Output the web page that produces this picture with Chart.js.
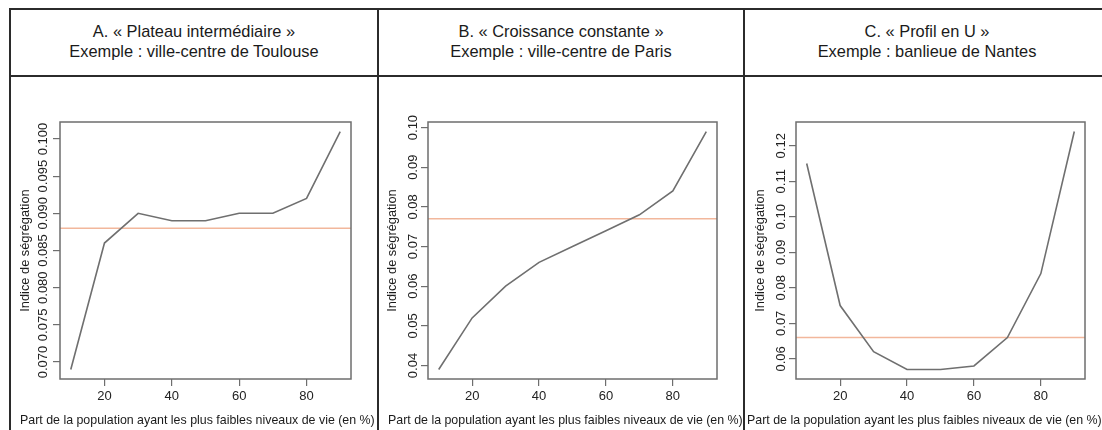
<!DOCTYPE html>
<html lang="fr">
<head>
<meta charset="utf-8">
<script src="https://cdn.jsdelivr.net/npm/chart.js@4.4.1/dist/chart.umd.min.js"></script>
<style>
  html, body { margin: 0; padding: 0; background: #fff; }
  body { width: 1102px; height: 430px; position: relative; overflow: hidden;
         font-family: "Liberation Sans", Arial, sans-serif; color: #1a1a1a; }
  .hline, .vline { position: absolute; background: #2b2b2b; }
  .head { position: absolute; top: 21px; text-align: center; font-size: 16.4px;
          line-height: 20px; white-space: nowrap; }
  .xtitle { position: absolute; top: 412px; font-size: 12.4px; line-height: 16px; white-space: nowrap; }
  canvas { position: absolute; top: 78px; }
</style>
</head>
<body>
<div class="hline" style="left:10px;top:8px;width:1100px;height:2px"></div>
<div class="hline" style="left:10px;top:75px;width:1100px;height:2px"></div>
<div class="vline" style="left:9px;top:8px;width:2px;height:430px"></div>
<div class="vline" style="left:377px;top:8px;width:2px;height:430px"></div>
<div class="vline" style="left:743px;top:8px;width:2px;height:430px"></div>

<div class="head" style="left:10px;width:368px">A. « Plateau intermédiaire »<br>Exemple : ville-centre de Toulouse</div>
<div class="head" style="left:378px;width:366px">B. « Croissance constante »<br>Exemple : ville-centre de Paris</div>
<div class="head" style="left:744px;width:366px">C. « Profil en U »<br>Exemple : banlieue de Nantes</div>

<canvas id="chartA" width="366" height="352" style="left:11px"></canvas>
<canvas id="chartB" width="363" height="352" style="left:380px"></canvas>
<canvas id="chartC" width="356" height="352" style="left:746px"></canvas>

<div class="xtitle" style="left:20px">Part de la population ayant les plus faibles niveaux de vie (en %)</div>
<div class="xtitle" style="left:388px">Part de la population ayant les plus faibles niveaux de vie (en %)</div>
<div class="xtitle" style="left:747px">Part de la population ayant les plus faibles niveaux de vie (en %)</div>

<script>
// part de la population (en %)
const shares = [10, 20, 30, 40, 50, 60, 70, 80, 90];
// indice de ségrégation
const toulouse = [0.069, 0.086, 0.090, 0.089, 0.089, 0.090, 0.090, 0.092, 0.101];
const paris = [0.039, 0.052, 0.060, 0.066, 0.070, 0.074, 0.078, 0.084, 0.099];
const nantes = [0.115, 0.075, 0.062, 0.057, 0.057, 0.058, 0.066, 0.084, 0.124];
// niveau de référence (ligne orange)
const refLevels = [0.088, 0.077, 0.066];

const xTicks = [20, 40, 60, 80];
const yTicksA = [0.070, 0.075, 0.080, 0.085, 0.090, 0.095, 0.100];
const yTicksB = [0.04, 0.05, 0.06, 0.07, 0.08, 0.09, 0.10];
const yTicksC = [0.06, 0.07, 0.08, 0.09, 0.10, 0.11, 0.12];

const plotBox = {
    id: 'plotBox',
    afterDatasetsDraw(chart) {
        const { ctx, chartArea: a } = chart;
        ctx.save();
        ctx.strokeStyle = '#6e6e6e';
        ctx.lineWidth = 1.5;
        ctx.strokeRect(a.left, a.top, a.right - a.left, a.bottom - a.top);
        ctx.restore();
    }
};

// R-style range: 4% margin on each side
function pad(values) {
    const lo = Math.min(...values), hi = Math.max(...values);
    const d = (hi - lo) * 0.04;
    return [lo - d, hi + d];
}

function drawPanel(id, values, ref, yTicks, decimals, layout) {
    const [xMin, xMax] = pad(shares);
    const [yMin, yMax] = pad(values);
    new Chart(document.getElementById(id), {
        type: 'line',
        data: {
            datasets: [{
                data: shares.map((s, i) => ({ x: s, y: values[i] })),
                borderColor: '#6f6f6f',
                borderWidth: 1.6,
                pointRadius: 0,
                tension: 0
            }, {
                data: [{ x: xMin, y: ref }, { x: xMax, y: ref }],
                borderColor: '#f2b79c',
                borderWidth: 1.6,
                pointRadius: 0
            }]
        },
        options: {
            responsive: false,
            animation: false,
            events: [],
            layout: { padding: { top: 44, bottom: 0, left: 0, right: layout.right } },
            plugins: { legend: { display: false }, tooltip: { enabled: false } },
            scales: {
                x: {
                    type: 'linear',
                    min: xMin,
                    max: xMax,
                    afterBuildTicks: s => { s.ticks = xTicks.map(v => ({ value: v })); },
                    afterFit: s => { s.height = 51; },
                    grid: { drawOnChartArea: false, drawTicks: true, tickLength: 7, color: '#6e6e6e', lineWidth: 1.2 },
                    border: { display: false },
                    ticks: {
                        autoSkip: false,
                        maxRotation: 0,
                        padding: 3,
                        color: '#222',
                        font: { family: 'Liberation Sans', size: 13 },
                        callback: v => String(v)
                    }
                },
                y: {
                    type: 'linear',
                    min: yMin,
                    max: yMax,
                    afterBuildTicks: s => { s.ticks = yTicks.map(v => ({ value: v })); },
                    afterFit: s => { s.width = layout.yWidth; },
                    grid: { drawOnChartArea: false, drawTicks: true, tickLength: 7, color: '#6e6e6e', lineWidth: 1.2 },
                    border: { display: false },
                    title: {
                        display: true,
                        text: 'Indice de ségrégation',
                        color: '#1a1a1a',
                        padding: { top: layout.titlePad, bottom: 0 },
                        font: { family: 'Liberation Sans', size: 12.8 }
                    },
                    ticks: {
                        autoSkip: false,
                        minRotation: 90,
                        maxRotation: 90,
                        crossAlign: 'center',
                        padding: layout.tickPad,
                        color: '#222',
                        font: { family: 'Liberation Sans', size: 13 },
                        callback: v => v.toFixed(decimals)
                    }
                }
            }
        },
        plugins: [plotBox]
    });
}

drawPanel('chartA', toulouse, refLevels[0], yTicksA, 3, { yWidth: 49, right: 26, titlePad: 6.8, tickPad: -7 });
drawPanel('chartB', paris, refLevels[1], yTicksB, 2, { yWidth: 48, right: 26, titlePad: 5, tickPad: -4.6 });
drawPanel('chartC', nantes, refLevels[2], yTicksC, 2, { yWidth: 50, right: 17, titlePad: 6.3, tickPad: -4.6 });
</script>
</body>
</html>
